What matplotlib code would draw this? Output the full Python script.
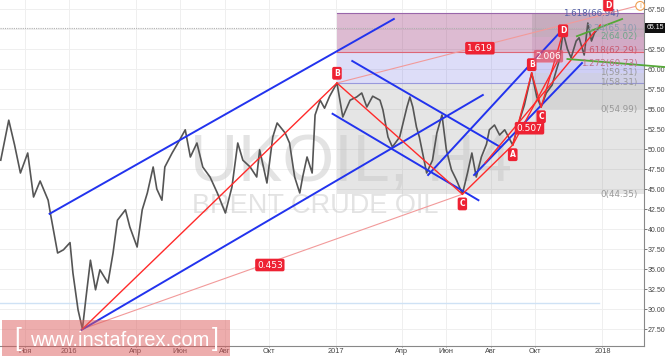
import matplotlib
matplotlib.use("Agg")
import matplotlib.pyplot as plt
import pandas as pd
from matplotlib.patches import Rectangle
from matplotlib.transforms import blended_transform_factory

# price path (approximate closes)
price_dates = [
    "2015-09-29", "2015-10-10", "2015-10-18", "2015-10-26", "2015-11-05", "2015-11-13",
    "2015-11-22", "2015-12-03", "2015-12-06", "2015-12-16", "2015-12-24", "2016-01-02",
    "2016-01-06", "2016-01-13", "2016-01-19", "2016-01-24", "2016-01-30", "2016-02-06",
    "2016-02-12", "2016-02-23", "2016-03-01", "2016-03-07", "2016-03-18", "2016-03-24",
    "2016-04-03", "2016-04-10", "2016-04-17", "2016-04-25", "2016-04-30", "2016-05-07",
    "2016-05-11", "2016-05-21", "2016-05-29", "2016-06-08", "2016-06-15", "2016-06-24",
    "2016-07-02", "2016-07-12", "2016-07-22", "2016-08-02", "2016-08-11", "2016-08-19",
    "2016-08-26", "2016-09-05", "2016-09-14", "2016-09-18", "2016-09-28", "2016-10-06",
    "2016-10-12", "2016-10-23", "2016-10-29", "2016-11-05", "2016-11-12", "2016-11-16",
    "2016-11-22", "2016-11-29", "2016-12-03", "2016-12-10", "2016-12-16", "2016-12-23",
    "2017-01-02", "2017-01-10", "2017-01-20", "2017-01-29", "2017-02-05", "2017-02-12",
    "2017-02-20", "2017-03-02", "2017-03-06", "2017-03-13", "2017-03-19", "2017-03-29",
    "2017-04-08", "2017-04-12", "2017-04-16", "2017-04-21", "2017-04-25", "2017-05-05",
    "2017-05-13", "2017-05-19", "2017-05-26", "2017-06-01", "2017-06-08", "2017-06-15",
    "2017-06-23", "2017-06-30", "2017-07-06", "2017-07-12", "2017-07-19", "2017-07-26",
    "2017-07-30", "2017-08-06", "2017-08-13", "2017-08-20", "2017-08-31", "2017-09-09",
    "2017-09-16", "2017-09-26", "2017-10-03", "2017-10-09", "2017-10-16", "2017-10-24",
    "2017-10-30", "2017-11-03", "2017-11-08", "2017-11-14", "2017-11-19", "2017-11-26",
    "2017-11-30", "2017-12-07", "2017-12-12", "2017-12-17", "2017-12-21", "2017-12-27",
]
price_close = [
    48.6, 53.6, 50.5, 47.0, 49.5, 44.0,
    46.0, 43.6, 42.0, 37.0, 37.4, 38.3,
    34.5, 29.9, 27.5, 31.5, 36.1, 32.4,
    34.9, 33.25, 37.0, 41.1, 42.4, 40.25,
    37.75, 42.4, 44.5, 47.75, 45.0, 43.6,
    47.75, 49.5, 50.75, 52.4, 49.0, 50.75,
    47.75, 46.5, 44.5, 42.0, 45.25, 50.75,
    48.6, 47.75, 46.5, 49.9, 45.75, 51.5,
    53.25, 52.0, 50.75, 46.5, 44.5, 46.5,
    49.0, 47.0, 54.25, 56.1, 55.1, 56.6,
    58.25, 54.0, 56.1, 56.5, 57.0, 55.25,
    56.6, 56.1, 54.9, 51.5, 50.25, 51.5,
    55.25, 56.5, 55.25, 52.75, 51.5, 47.0,
    48.6, 52.0, 54.25, 49.9, 47.4, 46.1,
    44.35, 47.0, 49.5, 46.5, 49.0, 50.6,
    52.4, 53.0, 51.75, 52.4, 50.5, 53.5,
    55.5, 59.5, 56.5, 55.25, 57.0, 58.0,
    59.9, 61.1, 64.6, 62.5, 61.4, 63.5,
    63.9, 61.75, 65.75, 63.5, 64.5, 65.15,
]
last_price = 65.15

x_tick_dates = ["2015-11-01", "2016-01-01", "2016-04-01", "2016-06-01", "2016-08-01", "2016-10-01",
                "2017-01-01", "2017-04-01", "2017-06-01", "2017-08-01", "2017-10-01", "2018-01-01"]
x_tick_labels = ["Ноя", "2016", "Апр", "Июн", "Авг", "Окт", "2017", "Апр", "Июн", "Авг", "Окт", "2018"]
y_ticks = [27.5 + 2.5 * i for i in range(17)]

# fibonacci boxes: (low, high, color, alpha)
fib1_start = "2017-01-02"
fib1_bands = [(44.35, 58.31, "#8a8a8a", 0.22), (58.31, 62.11, "#5555dd", 0.2), (62.11, 66.94, "#993377", 0.33)]
fib1_lines = [(58.31, "#9999dd"), (62.11, "#dd6677"), (66.94, "#9966aa")]
fib2_start = "2017-09-26"
fib2_bands = [(54.99, 59.51, "#808080", 0.15), (59.51, 60.73, "#5555dd", 0.1), (60.73, 62.29, "#ee5566", 0.12),
              (62.29, 64.02, "#883377", 0.12), (64.02, 66.82, "#707070", 0.2)]
fib_labels = [("1.618(66.94)", 66.94, "#5560a8", 0.962), ("2.24(65.10)", 65.10, "#8a9ab0", 0.99),
              ("2(64.02)", 64.02, "#6fa58a", 0.99), ("1.618(62.29)", 62.29, "#c85a70", 0.99),
              ("1.272(60.73)", 60.73, "#c07088", 0.99), ("1(59.51)", 59.51, "#999999", 0.99),
              ("1(58.31)", 58.31, "#999999", 0.99), ("0(54.99)", 54.99, "#999999", 0.99),
              ("0(44.35)", 44.35, "#999999", 0.99)]

blue_lines = [
    (("2015-12-05", 41.9), ("2017-03-21", 66.25)),
    (("2016-01-18", 27.4), ("2017-07-21", 56.75)),
    (("2017-01-23", 61.0), ("2017-08-14", 50.25)),
    (("2016-12-27", 54.4), ("2017-07-15", 43.6)),
    (("2017-05-07", 46.75), ("2017-11-08", 65.0)),
    (("2017-07-09", 46.75), ("2017-12-04", 60.75)),
]
red_lines = [
    (("2016-01-19", 27.5), ("2017-01-02", 58.25)),
    (("2017-01-02", 58.25), ("2017-06-23", 44.35)),
    (("2017-06-23", 44.35), ("2017-08-31", 50.5)),
    (("2017-08-31", 50.5), ("2017-09-26", 59.5)),
    (("2017-09-26", 59.5), ("2017-10-09", 55.25)),
    (("2017-10-09", 55.25), ("2017-11-08", 64.6)),
    (("2017-07-24", 48.25), ("2017-12-29", 65.5)),
    (("2017-08-31", 50.5), ("2017-11-03", 61.4)),
]
pink_lines = [
    (("2017-01-02", 58.25), ("2018-02-27", 68.1)),
    (("2016-01-19", 27.5), ("2017-06-23", 44.35)),
]
green_lines = [
    (("2017-11-27", 64.1), ("2018-01-28", 66.25)),
    (("2017-11-14", 61.25), ("2018-03-27", 60.25)),
]
blue_level = 30.75
blue_level_end = "2017-12-27"

# wave / ratio tags: text, date, price, offset (points)
wave_tags = [
    ("B", "2017-01-02", 58.25, 7), ("C", "2017-06-23", 44.35, -7), ("A", "2017-08-31", 50.5, -7),
    ("B", "2017-09-26", 59.5, 6), ("C", "2017-10-09", 55.25, -7), ("D", "2017-11-08", 64.6, 1),
    ("D", "2018-01-09", 68.0, 0),
]
ratio_tags = [("1.619", "2017-07-17", 62.6, "#ee2233", 1.0), ("0.453", "2016-10-02", 35.5, "#ee2233", 1.0),
              ("0.507", "2017-09-23", 52.6, "#ee2233", 1.0), ("2.006", "2017-10-19", 61.6, "#e05068", 0.75)]

d = pd.to_datetime
x_left, x_right = d("2015-09-28"), d("2018-02-27")
label_font = ["Liberation Sans", "DejaVu Sans"]

fig = plt.figure(figsize=(6.65, 3.57), dpi=100)
ax = fig.add_axes([0, 11 / 357, 644 / 665, 346 / 357])
ax.set_xlim(x_left, x_right)
ax.set_ylim(25.375, 68.625)

# grid
for t in x_tick_dates:
    ax.axvline(d(t), color="#efefef", lw=0.7, zorder=0)
for y in y_ticks:
    ax.axhline(y, color="#efefef", lw=0.7, zorder=0)

# fib boxes
for lo, hi, c, a in fib1_bands:
    ax.fill_between([d(fib1_start), x_right], lo, hi, color=c, alpha=a, lw=0, zorder=1)
for lvl, c in fib1_lines:
    ax.plot([d(fib1_start), x_right], [lvl, lvl], color=c, lw=0.8, zorder=1)
for lo, hi, c, a in fib2_bands:
    ax.fill_between([d(fib2_start), x_right], lo, hi, color=c, alpha=a, lw=0, zorder=1)

# watermark
ax.text(0.295, 0.474, "UKOIL, H4", transform=ax.transAxes, fontsize=48, color="#c8c8c8", alpha=0.5,
        family=label_font, va="baseline", ha="left", zorder=2)
ax.text(0.298, 0.384, "BRENT CRUDE OIL", transform=ax.transAxes, fontsize=19.5, color="#c8c8c8", alpha=0.5,
        family=label_font, va="baseline", ha="left", zorder=2)

# horizontal levels
ax.plot([x_left, d(blue_level_end)], [blue_level, blue_level], color="#cfe2f5", lw=1, zorder=2)
ax.axhline(last_price, color="#b0b0b0", lw=0.8, ls=(0, (1, 1)), zorder=2)

# price
ax.plot(d(price_dates), price_close, color="#555555", lw=1.2, zorder=3)

for (x0, y0), (x1, y1) in pink_lines:
    ax.plot([d(x0), d(x1)], [y0, y1], color="#f29a9a", lw=0.8, zorder=4)
for (x0, y0), (x1, y1) in blue_lines:
    ax.plot([d(x0), d(x1)], [y0, y1], color="#2233ee", lw=1.4, zorder=4)
for (x0, y0), (x1, y1) in red_lines:
    ax.plot([d(x0), d(x1)], [y0, y1], color="#ff2a2a", lw=1.0, zorder=4)
for (x0, y0), (x1, y1) in green_lines:
    ax.plot([d(x0), d(x1)], [y0, y1], color="#55a838", lw=1.3, zorder=4, clip_on=False)

for txt, lvl, c, xf in fib_labels:
    ax.text(xf, lvl, txt, transform=blended_transform_factory(ax.transAxes, ax.transData),
            ha="right", va="center", fontsize=6.3, color=c, zorder=5)

for txt, dt, p, off in wave_tags:
    ax.annotate(txt, xy=(d(dt), p), xytext=(0, off), textcoords="offset points", ha="center", va="center",
                fontsize=5.5, color="white", fontweight="bold", zorder=6, annotation_clip=False,
                bbox=dict(boxstyle="round,pad=0.25", fc="#ee2233", ec="none"))
for txt, dt, p, c, a in ratio_tags:
    ax.text(d(dt), p, txt, ha="center", va="center", fontsize=6.5, color="white", zorder=6,
            bbox=dict(boxstyle="round,pad=0.2", fc=c, ec="none", alpha=a))

# last price tag and info icon
ax.text(1.004, last_price, "%.2f" % last_price, transform=blended_transform_factory(ax.transAxes, ax.transData),
        ha="left", va="center", fontsize=5.0, color="white", clip_on=False, zorder=7, family=label_font,
        bbox=dict(boxstyle="square,pad=0.2", fc="#111111", ec="none"))
ax.text(0.994, 0.983, "i", transform=ax.transAxes, ha="center", va="center", fontsize=5, color="#f0a050",
        bbox=dict(boxstyle="circle,pad=0.2", fc="white", ec="#f0a050", lw=0.8), zorder=7)

# axes styling; the 65.00 label sits under the price tag
ax.yaxis.tick_right()
ax.set_yticks(y_ticks)
ax.set_yticklabels(["" if abs(v - 65.0) < 0.01 else "%.2f" % v for v in y_ticks], family=label_font)
ax.set_xticks(d(x_tick_dates))
ax.set_xticklabels(x_tick_labels, family=label_font)
ax.tick_params(axis="y", labelsize=5.0, colors="#444444", length=2, width=0.5, pad=0.8)
ax.tick_params(axis="x", labelsize=5.3, colors="#444444", length=1, width=0.5, pad=0.3)
for s in ["top", "left"]:
    ax.spines[s].set_visible(False)
for s in ["right", "bottom"]:
    ax.spines[s].set_color("#888888")
    ax.spines[s].set_linewidth(0.8)

# instaforex badge
fig.add_artist(Rectangle((2 / 665, 1 / 357), 228 / 665, 36 / 357, transform=fig.transFigure,
                         fc="#dd5c5c", ec="none", alpha=0.5, zorder=10))
fig.text(14 / 665, 18 / 357, "[", fontsize=18, color="white", family=label_font,
         va="center", ha="left", zorder=11)
fig.text(30 / 665, 16 / 357, "www.instaforex.com", fontsize=14.5, color="white",
         family=label_font, va="center", ha="left", zorder=11)
fig.text(212 / 665, 18 / 357, "]", fontsize=18, color="white", family=label_font,
         va="center", ha="left", zorder=11)

fig.savefig("out.png", dpi=100)
